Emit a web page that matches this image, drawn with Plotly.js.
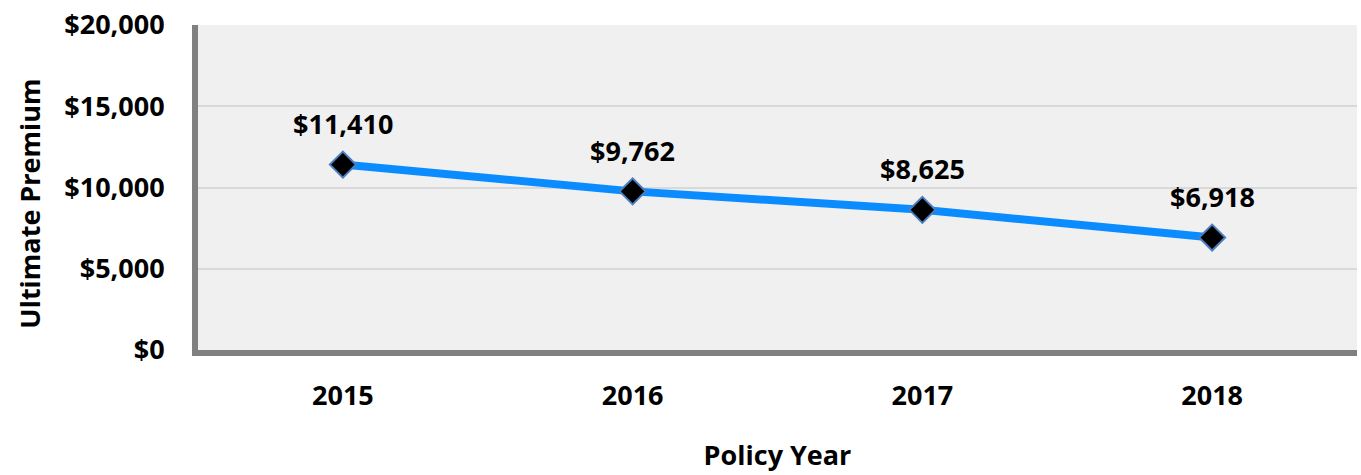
<!DOCTYPE html>
<html>
<head>
<meta charset="utf-8">
<script src="https://cdn.plot.ly/plotly-3.0.1.min.js"></script>
<style>html,body{margin:0;padding:0;background:#fff;}#chart{width:1361px;height:475px;}</style>
</head>
<body>
<div id="chart"></div>
<script>
const years = ["2015", "2016", "2017", "2018"];
const premiums = [11410, 9762, 8625, 6918];
const valueLabels = ["$11,410", "$9,762", "$8,625", "$6,918"];
const yTickValues = [0, 5000, 10000, 15000, 20000];
const yTickLabels = ["$0", "$5,000", "$10,000", "$15,000", "$20,000"];
const yTitle = "Ultimate Premium";
const xTitle = "Policy Year";

const FONT = "'Open Sans', Lato, sans-serif";
const FS = 27;
const boldFont = {family: FONT, size: FS, color: "#000", weight: 700};

const trace = {
  x: years,
  y: premiums,
  type: "scatter",
  mode: "lines+markers",
  line: {color: "#0a8cff", width: 8},
  marker: {symbol: "diamond", size: 20, color: "#000000", line: {color: "#4a7fc0", width: 2}},
  hoverinfo: "skip",
  cliponaxis: false
};

const annotations = years.map((yr, i) => ({
  x: i, y: premiums[i], xref: "x", yref: "y",
  text: valueLabels[i], showarrow: false, yshift: 41,
  font: boldFont
}));
annotations.push({
  xref: "paper", yref: "paper", x: 0, y: 0.45, xshift: -168,
  text: yTitle, textangle: -90, showarrow: false,
  xanchor: "center", yanchor: "middle", font: boldFont
});

const layout = {
  width: 1361, height: 475,
  margin: {l: 198, r: 4, t: 25, b: 125},
  paper_bgcolor: "#ffffff",
  plot_bgcolor: "#f0f0f0",
  showlegend: false,
  font: {family: FONT, color: "#000"},
  xaxis: {
    type: "category",
    range: [-0.5, 3.5],
    showline: true, linecolor: "#808080", linewidth: 6,
    showgrid: false, zeroline: false, ticks: "",
    ticklabelstandoff: 17,
    tickfont: boldFont,
    title: {text: xTitle, standoff: 36, font: boldFont},
    fixedrange: true
  },
  yaxis: {
    range: [0, 20000],
    tickvals: yTickValues, ticktext: yTickLabels,
    showline: true, linecolor: "#808080", linewidth: 6,
    showgrid: true, gridcolor: "#d9d9d9", gridwidth: 2,
    zeroline: false, ticks: "",
    ticklabelstandoff: 22,
    tickfont: boldFont,
    fixedrange: true
  },
  annotations: annotations
};

Plotly.newPlot("chart", [trace], layout, {displayModeBar: false, staticPlot: true});
</script>
</body>
</html>
